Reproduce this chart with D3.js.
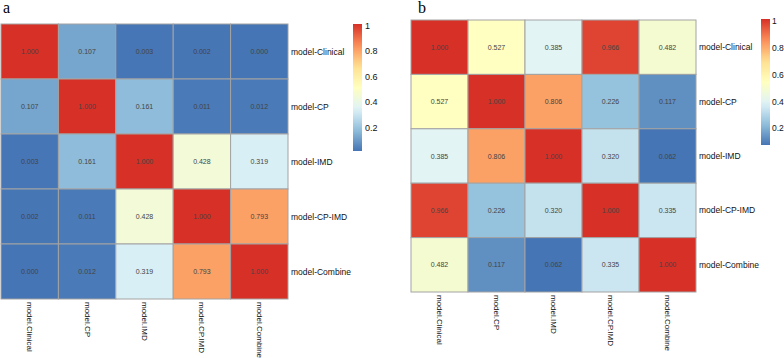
<!DOCTYPE html>
<html>
<head>
<meta charset="utf-8">
<script src="https://cdn.jsdelivr.net/npm/d3@7"></script>
<style>
  html, body { margin: 0; padding: 0; background: #fff; }
  svg { display: block; }
  text { font-family: "Liberation Sans", Arial, sans-serif; }
</style>
</head>
<body>
<svg id="chart" width="784" height="358"></svg>
<script>
const rowLabels = ["model-Clinical", "model-CP", "model-IMD", "model-CP-IMD", "model-Combine"];
const colLabels = ["model.Clinical", "model.CP", "model.IMD", "model.CP.IMD", "model.Combine"];

const valuesA = [
  [1.000, 0.107, 0.003, 0.002, 0.000],
  [0.107, 1.000, 0.161, 0.011, 0.012],
  [0.003, 0.161, 1.000, 0.428, 0.319],
  [0.002, 0.011, 0.428, 1.000, 0.793],
  [0.000, 0.012, 0.319, 0.793, 1.000]
];
const valuesB = [
  [1.000, 0.527, 0.385, 0.966, 0.482],
  [0.527, 1.000, 0.806, 0.226, 0.117],
  [0.385, 0.806, 1.000, 0.320, 0.062],
  [0.966, 0.226, 0.320, 1.000, 0.335],
  [0.482, 0.117, 0.062, 0.335, 1.000]
];
const legendTicks = [0.2, 0.4, 0.6, 0.8, 1];
const panelLetters = ["a", "b"];

const palette = ["#4575b4", "#91bfdb", "#e0f3f8", "#ffffbf", "#fee090", "#fc8d59", "#d73027"];

const svg = d3.select("#chart");

function drawPanel(cfg) {
  const g = svg.append("g");
  const flat = cfg.values.flat();
  const vmin = d3.min(flat), vmax = d3.max(flat);
  const color = d3.scaleLinear()
    .domain(d3.range(palette.length).map(i => vmin + (vmax - vmin) * i / (palette.length - 1)))
    .range(palette)
    .interpolate(d3.interpolateRgb)
    .clamp(true);

  const x = d3.scaleBand().domain(colLabels).range([cfg.x0, cfg.x1]);
  const y = d3.scaleBand().domain(rowLabels).range([cfg.y0, cfg.y1]);

  const cells = [];
  cfg.values.forEach((row, i) => row.forEach((v, j) => cells.push({ r: rowLabels[i], c: colLabels[j], v })));

  g.selectAll("rect.cell").data(cells).join("rect")
    .attr("class", "cell")
    .attr("x", d => x(d.c))
    .attr("y", d => y(d.r))
    .attr("width", x.bandwidth())
    .attr("height", y.bandwidth())
    .attr("fill", d => color(d.v))
    .attr("stroke", "#a3a3a3")
    .attr("stroke-width", 1);

  g.selectAll("text.val").data(cells).join("text")
    .attr("class", "val")
    .attr("x", d => x(d.c) + x.bandwidth() / 2)
    .attr("y", d => y(d.r) + y.bandwidth() / 2)
    .attr("text-anchor", "middle")
    .attr("dominant-baseline", "central")
    .attr("font-size", 7)
    .attr("fill", "#444")
    .text(d => d.v.toFixed(3));

  // row labels
  g.selectAll("text.rl").data(rowLabels).join("text")
    .attr("class", "rl")
    .attr("x", cfg.x1 + 3)
    .attr("y", d => y(d) + y.bandwidth() / 2)
    .attr("dominant-baseline", "central")
    .attr("font-size", 8.5)
    .attr("fill", "#111")
    .text(d => d);

  // column labels
  g.selectAll("text.cl").data(colLabels).join("text")
    .attr("class", "cl")
    .attr("transform", d => `translate(${x(d) + x.bandwidth() / 2},${cfg.y1 + 3}) rotate(90)`)
    .attr("dominant-baseline", "central")
    .attr("font-size", 8)
    .attr("fill", "#111")
    .text(d => d);

  // panel letter
  g.append("text")
    .attr("x", cfg.letterX)
    .attr("y", 13)
    .style("font-family", "'Liberation Serif', 'Times New Roman', serif")
    .attr("font-size", 16)
    .attr("fill", "#000")
    .text(cfg.letter);

  // legend
  const ly = d3.scaleLinear().domain([vmin, 1]).range([cfg.legY1, cfg.legY0]);
  const gradId = "grad" + cfg.letter;
  const grad = svg.append("defs").append("linearGradient")
    .attr("id", gradId).attr("x1", 0).attr("y1", 1).attr("x2", 0).attr("y2", 0);
  d3.range(0, 1.0001, 0.05).forEach(t => {
    grad.append("stop").attr("offset", t).attr("stop-color", color(vmin + (vmax - vmin) * t));
  });
  g.append("rect")
    .attr("x", cfg.legX)
    .attr("y", cfg.legY0)
    .attr("width", 9)
    .attr("height", cfg.legY1 - cfg.legY0)
    .attr("fill", `url(#${gradId})`);
  g.selectAll("text.lt").data(legendTicks).join("text")
    .attr("class", "lt")
    .attr("x", cfg.legX + cfg.tickGap)
    .attr("y", d => ly(d) + cfg.tickShift)
    .attr("dominant-baseline", "central")
    .attr("font-size", cfg.tickSize)
    .attr("fill", "#111")
    .text(d => d3.format("")(d));
}

drawPanel({ values: valuesA, letter: panelLetters[0], letterX: 3,
  x0: 1, x1: 288, y0: 24, y1: 299,
  legX: 353, legY0: 24, legY1: 151, tickShift: 2, tickGap: 12, tickSize: 9 });
drawPanel({ values: valuesB, letter: panelLetters[1], letterX: 418,
  x0: 411, x1: 696, y0: 20, y1: 292,
  legX: 761, legY0: 19, legY1: 145, tickShift: 2, tickGap: 11, tickSize: 8.5 });
</script>
</body>
</html>
